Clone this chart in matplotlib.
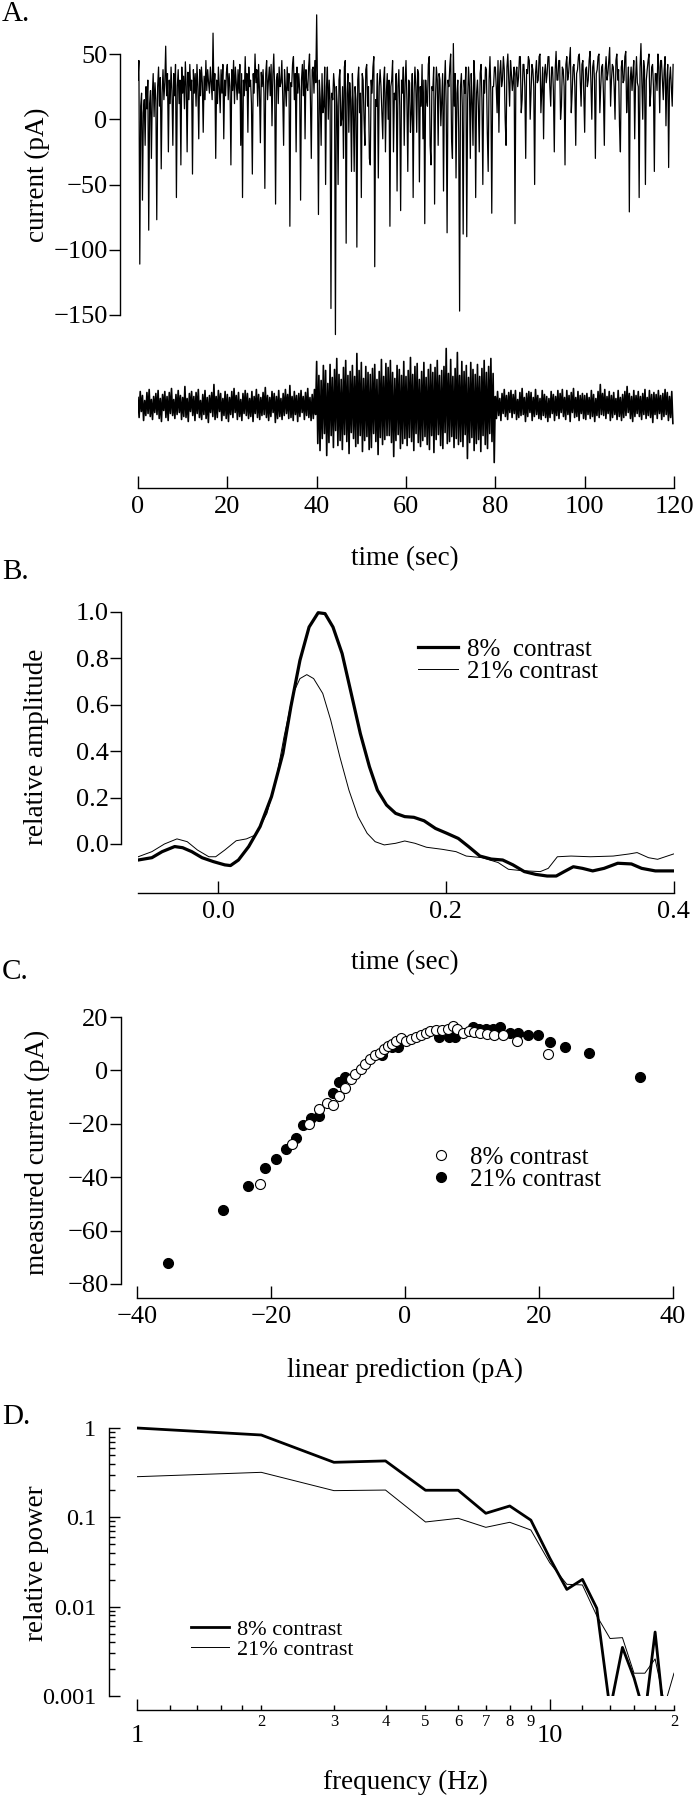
import matplotlib
matplotlib.use('Agg')
import matplotlib.pyplot as plt
from matplotlib.ticker import FixedLocator, FixedFormatter, NullFormatter
import numpy as np

plt.rcParams['font.family'] = ['Liberation Serif', 'DejaVu Serif']

W, H = 695, 1800

# ---------------- panel A: recorded current (pA), one sample every 0.2 s
dt_current = 0.2
current = [
    30, 45, -111, 10, 20, -62, 5, 15, -20, 25, 8, 30, -85, 12, 22, -30, 18, 35, 2, 28,
    15, -77, 25, 40, 10, 32, -38, 20, 38, 15, 28, 56, 18, 35, -25, 30, 12, 40, 22, -20,
    35, 18, 42, -60, 25, 38, 12, 30, -35, 40, 20, 33, 8, 44, 25, -25, 36, 15, 42, 22,
    30, -42, 38, 20, 35, 10, 42, 25, -15, 38, 18, 40, 28, -10, 33, 15, 45, 22, 38, 28,
    20, 40, 28, 15, 66, 22, 35, -30, 30, 12, 40, 25, 5, 38, 20, 42, -15, 30, 18, 36,
    42, 15, 35, 25, -35, 38, 22, 45, 12, 40, 28, 15, 38, 20, 42, -20, 35, -60, 30, 18,
    48, 22, 35, -10, 40, 25, 30, 12, -42, 35, 20, 50, 28, 38, 10, 42, 22, -18, 36, 25,
    38, 20, -53, 35, 45, 15, 30, 40, 18, 42, -5, 35, 50, 22, -65, 30, 35, 12, 40, 25,
    28, 45, 18, -20, 38, 25, 10, 40, 22, 35, -82, 28, 25, 42, 48, 15, 35, -25, 40, 20,
    35, 22, -62, 30, 42, 18, 45, -15, 38, 25, 22, 40, 50, 15, -30, 38, 40, 20, 45, 28,
    80, 20, -73, 30, 15, -20, 35, 5, 10, 40, -50, 25, 40, 0, 30, 15, -145, 20, 15, 35,
    25, -165, 25, 10, -50, 30, 38, -5, 0, 25, -30, 40, 45, -95, 20, 35, -10, 28, 15, -40,
    35, 10, -40, 25, 15, -98, 30, 40, 5, 20, -60, 35, 30, 0, -20, 38, 42, 10, 25, -30,
    -35, 30, 20, 40, 48, -113, 15, 10, 35, -45, 25, 38, 25, 5, -15, 30, 40, -25, 20, 35,
    0, 30, -82, 25, 30, 45, -25, 20, 15, 35, -55, 25, 38, 10, -70, 30, 20, 40, -20, 28,
    45, 15, -40, 30, 28, -10, 5, 35, -60, 20, 40, 25, -10, 38, 35, -48, 25, 10, 42, -15,
    30, -80, 30, 15, 10, 42, 48, -20, -35, 25, 22, 40, -65, 15, 40, 30, -20, 35, 30, -5,
    15, 35, -55, 25, 45, 10, -87, 30, 25, 40, 50, -15, -30, 58, 10, 35, -45, 20, 30, -10,
    -147, 25, 35, 10, -88, 30, 20, 40, -90, 15, 40, 25, -30, 35, 15, -20, 45, 30, -60, 20,
    30, 10, -25, 35, 42, 15, -50, 30, 20, 40, 38, -10, -40, 30, 48, 20, -72, 25, 25, 40,
    40, 25, 5, 45, -10, 35, 45, 25, 30, 48, 38, 0, -20, 40, 50, 30, 10, 45, 35, 22,
    30, 40, -80, 35, 40, 25, 32, 48, 48, 5, 15, 42, 42, 25, -30, 38, 35, 48, 45, 0,
    20, 42, 38, 25, -50, 35, 45, 28, 30, 48, 50, 5, 22, 40, -15, 35, 42, 28, 35, 48,
    48, 25, 10, 40, 40, 22, -25, 38, 52, 30, 30, 45, 45, 0, 10, 40, 38, 25, -35, 42,
    48, 30, 35, 45, 55, 5, 20, 40, 42, 25, -20, 35, 38, 48, 50, 30, 10, 42, 45, 20,
    -10, 38, 40, 25, 30, 45, 52, 28, 0, 40, 45, 30, -30, 35, 38, 48, 50, 5, 25, 40,
    42, 20, -20, 38, 48, 30, 35, 45, 55, 10, 30, 42, 40, 25, 0, 45, 50, 30, 38, -5,
    -25, 40, 45, 28, 30, 48, 52, 5, 20, 40, -71, 30, 40, 22, 35, 45, -15, 30, 48, 28,
    25, -60, 40, 58, 30, 0, 45, 38, -50, 30, 38, 45, 50, 10, 20, 40, 42, 25, -40, 35,
    35, 22, 50, 40, 5, 45, 45, 30, 15, 38, 48, -5, 30, 42, -37, 30, 40, 25, 10, 42,
]

# stimulus (% contrast), one sample every 0.25 s
dt_stim = 0.25
stim = [
    8, -12, 14, -6, 10, -15, 5, -10, 13, -8, 16, -11, 6, -14, 9, -7,
    12, -9, 15, -13, 7, -16, 11, -5, 14, -12, 9, -15, 13, -8, 17, -10,
    6, -13, 11, -9, 15, -7, 10, -14, 8, -11, 19, -12, 7, -16, 12, -6,
    14, -10, 9, -15, 13, -8, 16, -12, 5, -14, 11, -9, 15, -13, 8, -17,
    10, -7, 13, -11, 21, -14, 9, -12, 15, -6, 12, -15, 7, -10, 14, -13,
    11, -16, 8, -9, 14, -12, 17, -7, 10, -14, 13, -11, 6, -15, 12, -8,
    15, -10, 12, -13, 7, -11, 14, -16, 9, -8, 16, -12, 11, -14, 8, -10,
    13, -9, 18, -12, 10, -15, 8, -11, 14, -7, 12, -17, 9, -13, 15, -11,
    7, -14, 12, -10, 16, -8, 11, -13, 20, -12, 9, -15, 14, -9, 10, -16,
    12, -11, 15, -7, 9, -14, 13, -10, 17, -12, 8, -15, 11, -13, 16, -9,
    44, -38, 30, -45, 25, -33, 40, -28, 35, -50, 22, -37, 41, -30, 28, -42,
    36, -25, 47, -40, 31, -35, 26, -44, 38, -29, 45, -36, 30, -48, 34, -27,
    40, -33, 29, -41, 52, -38, 35, -30, 43, -46, 27, -35, 39, -31, 33, -44,
    31, -42, 37, -28, 41, -36, 26, -49, 34, -32, 46, -39, 29, -34, 42, -30,
    38, -30, 45, -37, 33, -51, 27, -35, 40, -29, 36, -43, 30, -38, 44, -33,
    29, -40, 35, -32, 48, -36, 31, -45, 39, -28, 42, -37, 26, -41, 34, -35,
    43, -31, 28, -39, 36, -44, 41, -30, 33, -47, 38, -34, 45, -29, 30, -40,
    35, -43, 39, -27, 57, -38, 32, -36, 46, -31, 29, -42, 37, -33, 53, -39,
    30, -36, 44, -41, 34, -29, 40, -53, 28, -37, 43, -32, 36, -45, 31, -38,
    41, -34, 29, -46, 37, -30, 45, -39, 33, -43, 39, -28, 47, -36, 32, -57,
    9, -13, 14, -10, 7, -15, 12, -8, 16, -11, 10, -14, 13, -7, 15, -12,
    11, -8, 15, -14, 6, -12, 13, -10, 17, -9, 8, -16, 12, -11, 14, -7,
    13, -15, 8, -11, 16, -9, 10, -13, 7, -14, 15, -10, 11, -12, 9, -16,
    7, -12, 14, -8, 11, -15, 9, -10, 15, -13, 12, -7, 16, -11, 8, -14,
    15, -9, 10, -16, 13, -7, 17, -12, 8, -11, 14, -15, 10, -8, 12, -13,
    10, -14, 12, -9, 8, -13, 15, -11, 11, -16, 7, -10, 14, -12, 21, -9,
    12, -10, 16, -13, 9, -8, 14, -15, 10, -12, 13, -9, 7, -14, 15, -11,
    8, -15, 11, -12, 14, -10, 19, -7, 12, -13, 9, -16, 15, -11, 10, -8,
    14, -11, 9, -14, 12, -9, 16, -13, 8, -10, 15, -12, 11, -17, 13, -9,
    11, -13, 15, -8, 10, -14, 12, -11, 16, -9, 13, -15, 9, -12, 14, -18,
]

# ---------------- panel B: linear filters
b_time_8 = [-0.070, -0.058, -0.049, -0.038, -0.031, -0.023, -0.014, -0.004, 0.006, 0.011,
            0.018, 0.027, 0.037, 0.047, 0.057, 0.064, 0.072, 0.080, 0.088, 0.094,
            0.101, 0.109, 0.117, 0.125, 0.133, 0.140, 0.148, 0.156, 0.164, 0.172,
            0.181, 0.191, 0.201, 0.211, 0.220, 0.230, 0.240, 0.250, 0.259, 0.269,
            0.279, 0.289, 0.297, 0.304, 0.312, 0.320, 0.329, 0.339, 0.351, 0.363,
            0.372, 0.384, 0.400]
b_amp_8 = [-0.069, -0.059, -0.033, -0.011, -0.016, -0.033, -0.059, -0.076, -0.090, -0.093,
           -0.069, -0.011, 0.075, 0.204, 0.390, 0.591, 0.792, 0.935, 0.997, 0.993,
           0.935, 0.821, 0.649, 0.476, 0.333, 0.232, 0.168, 0.132, 0.118, 0.115,
           0.100, 0.067, 0.046, 0.024, -0.011, -0.052, -0.065, -0.069, -0.090, -0.119,
           -0.131, -0.138, -0.138, -0.119, -0.098, -0.105, -0.116, -0.105, -0.083, -0.086,
           -0.105, -0.116, -0.116]
b_time_21 = [-0.070, -0.058, -0.047, -0.036, -0.027, -0.018, -0.008, -0.002, 0.006, 0.016,
             0.025, 0.033, 0.043, 0.051, 0.058, 0.066, 0.072, 0.078, 0.084, 0.092,
             0.099, 0.107, 0.115, 0.123, 0.131, 0.138, 0.146, 0.156, 0.164, 0.173,
             0.183, 0.197, 0.209, 0.218, 0.232, 0.246, 0.255, 0.267, 0.283, 0.290,
             0.298, 0.310, 0.327, 0.347, 0.361, 0.368, 0.378, 0.386, 0.400]
b_amp_21 = [-0.055, -0.033, 0.000, 0.022, 0.010, -0.026, -0.055, -0.055, -0.026, 0.014,
            0.022, 0.039, 0.132, 0.275, 0.462, 0.649, 0.713, 0.730, 0.713, 0.649,
            0.534, 0.376, 0.232, 0.118, 0.046, 0.010, -0.004, 0.003, 0.013, 0.003,
            -0.014, -0.023, -0.033, -0.052, -0.059, -0.080, -0.109, -0.115, -0.119, -0.105,
            -0.055, -0.052, -0.055, -0.052, -0.043, -0.037, -0.059, -0.066, -0.043]

# ---------------- panel C: static nonlinearity
c_pred_8 = [-21.6, -16.8, -14.3, -12.9, -11.6, -10.8, -9.8, -8.9, -8.1, -7.4,
            -6.6, -5.9, -5.2, -4.5, -3.7, -3.1, -2.5, -1.9, -1.3, -0.6,
            0.1, 0.9, 1.6, 2.4, 3.1, 3.7, 4.6, 5.5, 6.4, 7.1,
            7.8, 8.7, 9.5, 10.3, 11.2, 12.2, 13.3, 14.7, 16.7, 21.3]
c_meas_8 = [-42.7, -27.5, -20.0, -14.6, -12.2, -12.9, -9.4, -6.5, -3.4, -1.5,
            0.6, 2.5, 4.4, 5.6, 6.5, 7.9, 9.0, 10.0, 11.0, 12.1,
            11.2, 11.9, 12.5, 13.4, 14.1, 14.6, 15.2, 15.2, 15.6, 16.5,
            15.6, 14.0, 14.6, 14.4, 14.0, 13.7, 13.1, 13.4, 10.9, 6.2]
c_pred_21 = [-35.3, -27.2, -23.4, -20.9, -19.3, -17.8, -16.3, -15.2, -14.0, -12.8,
             -10.8, -9.9, -9.0, -3.4, -1.9, -1.0, 5.0, 6.6, 7.5, 10.1,
             11.1, 12.1, 13.2, 14.2, 15.7, 16.9, 18.4, 19.9, 21.7, 23.9,
             27.5, 35.1]
c_meas_21 = [-72.3, -52.3, -43.3, -36.7, -33.2, -29.6, -25.2, -20.6, -17.9, -16.9,
             -8.5, -4.4, -2.5, 5.8, 8.6, 8.8, 12.7, 12.5, 12.5, 16.2,
             15.6, 15.6, 15.4, 16.2, 14.0, 14.0, 13.1, 13.1, 10.6, 8.7,
             6.6, -2.5]

# ---------------- panel D: power spectra
d_freq = [1, 2, 3, 4, 5, 6, 7, 8, 9, 10, 11, 12, 13, 14, 15, 16, 17, 18, 19, 20]
d_pow_8 = [1.0, 0.835, 0.413, 0.428, 0.201, 0.201, 0.111, 0.134, 0.093, 0.035,
           0.0156, 0.0202, 0.0096, 0.0007, 0.0035, 0.0016, 0.0006, 0.0052, 0.00048, 0.0004]
d_pow_21 = [0.285, 0.319, 0.199, 0.202, 0.0887, 0.0975, 0.0773, 0.088, 0.0721, 0.031,
            0.0178, 0.0175, 0.0079, 0.0044, 0.0045, 0.0018, 0.0018, 0.0026, 0.0008, 0.0018]

labels = ['8% contrast', '21% contrast']


def box(x0, y0, x1, y1):
    # pixel box measured from the top-left corner -> figure rect
    return [x0 / W, 1 - y1 / H, (x1 - x0) / W, (y1 - y0) / H]


def pt(px):
    return px * 72 / 100.0


def ftext(x, y, s, **kw):
    fig.text(x / W, 1 - y / H, s, **kw)


def clean(ax):
    for s in ['top', 'right']:
        ax.spines[s].set_visible(False)
    for s in ['left', 'bottom']:
        ax.spines[s].set_linewidth(1.0)
    ax.patch.set_visible(False)


TICK = 19
LAB = 19.5

fig = plt.figure(figsize=(W / 100, H / 100), dpi=100)

# ---- A: current trace
axA = fig.add_axes(box(138, 10, 674, 340))
clean(axA)
tA = np.arange(len(current)) * dt_current
axA.plot(tA, current, color='black', lw=0.9)
axA.set_xlim(0, 120)
axA.set_ylim(-169.16, 83.72)
axA.spines['bottom'].set_visible(False)
axA.spines['left'].set_position(('outward', pt(18)))
axA.spines['left'].set_bounds(-150, 50)
axA.set_xticks([])
axA.set_yticks([-150, -100, -50, 0, 50])
axA.tick_params(axis='y', direction='out', length=pt(11), width=1, pad=1, labelsize=TICK)

# ---- A: stimulus trace
axS = fig.add_axes(box(138, 338, 674, 473))
clean(axS)
tS = np.arange(len(stim)) * dt_stim
axS.plot(tS, stim, color='black', lw=1.2)
axS.set_xlim(0, 120)
axS.set_ylim(-67.5, 67.5)
axS.spines['left'].set_visible(False)
axS.spines['bottom'].set_position(('outward', pt(15)))
axS.set_yticks([])
axS.set_xticks([0, 20, 40, 60, 80, 100, 120])
axS.tick_params(axis='x', direction='in', length=pt(12), width=1, pad=6, labelsize=TICK)

# ---- B: filters
axB = fig.add_axes(box(138, 600, 674, 880))
clean(axB)
lB8, = axB.plot(b_time_8, b_amp_8, color='black', lw=2.3)
lB21, = axB.plot(b_time_21, b_amp_21, color='black', lw=0.7)
axB.set_xlim(-0.0702, 0.4004)
axB.set_ylim(-0.1552, 1.0517)
axB.spines['left'].set_position(('outward', pt(17)))
axB.spines['left'].set_bounds(0, 1)
axB.spines['bottom'].set_position(('outward', pt(13)))
axB.set_yticks([0, 0.2, 0.4, 0.6, 0.8, 1.0])
axB.set_yticklabels(['0.0', '0.2', '0.4', '0.6', '0.8', '1.0'])
axB.set_xticks([0, 0.2, 0.4])
axB.set_xticklabels(['0.0', '0.2', '0.4'])
axB.tick_params(axis='y', direction='out', length=pt(11), width=1, pad=1, labelsize=TICK)
axB.tick_params(axis='x', direction='in', length=pt(12), width=1, pad=6, labelsize=TICK)
axB.legend([lB8, lB21], ['8%  contrast', '21% contrast'], loc='upper left',
           bbox_to_anchor=(418 / W, 1 - 638 / H), bbox_transform=fig.transFigure,
           frameon=False, fontsize=18, handlelength=1.6, handletextpad=0.35,
           labelspacing=0.0, borderpad=0, borderaxespad=0)

# ---- C: nonlinearity
axC = fig.add_axes(box(137, 1005, 673, 1288))
clean(axC)
pC21, = axC.plot(c_pred_21, c_meas_21, 'o', ms=7.2, mfc='black', mec='black', mew=0.8)
pC8, = axC.plot(c_pred_8, c_meas_8, 'o', ms=7.2, mfc='white', mec='black', mew=0.8)
axC.set_xlim(-40, 40)
axC.set_ylim(-81.5, 24.5)
axC.spines['left'].set_position(('outward', pt(16)))
axC.spines['left'].set_bounds(-80, 20)
axC.spines['bottom'].set_position(('outward', pt(10)))
axC.set_yticks([-80, -60, -40, -20, 0, 20])
axC.set_xticks([-40, -20, 0, 20, 40])
axC.tick_params(axis='y', direction='out', length=pt(11), width=1, pad=1, labelsize=TICK)
axC.tick_params(axis='x', direction='in', length=pt(12), width=1, pad=6, labelsize=TICK)
axC.legend([pC8, pC21], labels, loc='upper left',
           bbox_to_anchor=(431 / W, 1 - 1146 / H), bbox_transform=fig.transFigure,
           frameon=False, fontsize=18, handlelength=0.8, handletextpad=0.75,
           labelspacing=0.0, borderpad=0, borderaxespad=0, numpoints=1)

# ---- D: power spectra
axD = fig.add_axes(box(137, 1418, 674, 1696))
clean(axD)
lD8, = axD.plot(d_freq, d_pow_8, color='black', lw=2.0)
lD21, = axD.plot(d_freq, d_pow_21, color='black', lw=0.7)
axD.set_xscale('log')
axD.set_yscale('log')
axD.set_xlim(1, 20)
axD.set_ylim(0.001, 1.294)
axD.spines['left'].set_position(('outward', pt(28)))
axD.spines['left'].set_bounds(0.001, 1)
axD.spines['bottom'].set_position(('outward', pt(14)))
axD.yaxis.set_major_locator(FixedLocator([0.001, 0.01, 0.1, 1]))
axD.yaxis.set_major_formatter(FixedFormatter(['0.001', '0.01', '0.1', '1']))
axD.yaxis.set_minor_locator(FixedLocator([m * d for d in [0.001, 0.01, 0.1] for m in range(2, 10)]))
axD.yaxis.set_minor_formatter(NullFormatter())
axD.tick_params(axis='y', which='major', direction='in', length=pt(11), width=1, pad=9.4, labelsize=17.5)
axD.tick_params(axis='y', which='minor', direction='in', length=pt(6), width=1)
axD.xaxis.set_major_locator(FixedLocator([1, 10]))
axD.xaxis.set_major_formatter(FixedFormatter(['1', '10']))
x_minor = [1.2, 1.4, 1.6, 1.8, 2, 3, 4, 5, 6, 7, 8, 9, 12, 14, 16, 18, 20]
x_minor_lab = ['', '', '', '', '2', '3', '4', '5', '6', '7', '8', '9', '', '', '', '', '2']
axD.xaxis.set_minor_locator(FixedLocator(x_minor))
axD.xaxis.set_minor_formatter(FixedFormatter(x_minor_lab))
axD.tick_params(axis='x', which='major', direction='in', length=pt(11), width=1, pad=11, labelsize=TICK)
axD.tick_params(axis='x', which='minor', direction='in', length=pt(5), width=1, pad=3, labelsize=12)
axD.legend([lD8, lD21], labels, loc='upper left',
           bbox_to_anchor=(191 / W, 1 - 1619 / H), bbox_transform=fig.transFigure,
           frameon=False, fontsize=16, handlelength=1.7, handletextpad=0.35,
           labelspacing=0.0, borderpad=0, borderaxespad=0)

# ---- panel letters and axis titles
for s, y in [('A.', 14), ('B.', 572), ('C.', 972), ('D.', 1417)]:
    ftext(2, y, s, fontsize=21, ha='left', va='center')
for s, y in [('current (pA)', 175), ('relative amplitude', 747),
             ('measured current (pA)', 1152), ('relative power', 1563)]:
    ftext(37, y, s, fontsize=LAB, rotation=90, ha='center', va='center')
for s, y in [('time (sec)', 559), ('time (sec)', 963),
             ('linear prediction (pA)', 1370), ('frequency (Hz)', 1782)]:
    ftext(405, y, s, fontsize=LAB, ha='center', va='center')

fig.savefig('out.png', dpi=100)
